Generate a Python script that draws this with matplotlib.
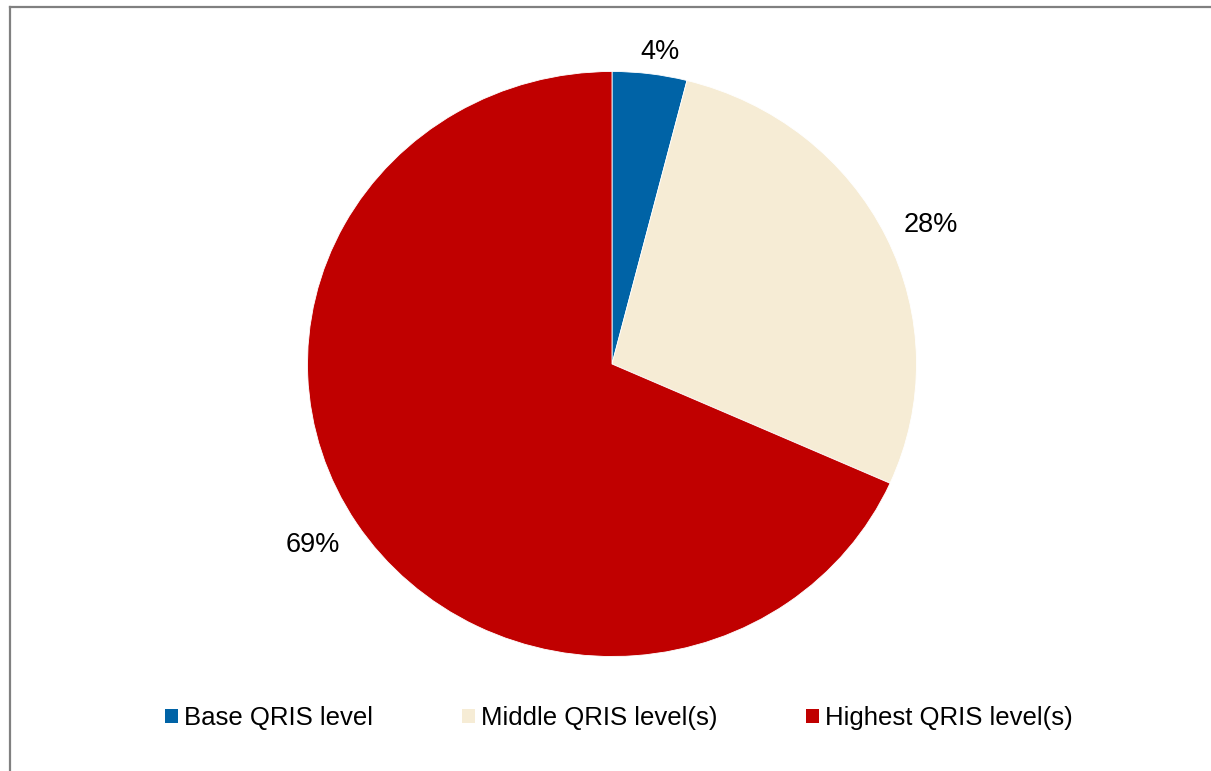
import numpy as np
import matplotlib.pyplot as plt
from matplotlib.lines import Line2D
from matplotlib.patches import Patch

plt.rcParams['font.family'] = ['Liberation Sans', 'DejaVu Sans']

labels = ['Base QRIS level', 'Middle QRIS level(s)', 'Highest QRIS level(s)']
shares = [4, 28, 69]
colors = ['#0063a6', '#f6ecd5', '#c00000']

W, H = 1211, 771
fig = plt.figure(figsize=(W / 100, H / 100), dpi=100)

# outer frame (only top and left edges fall inside the canvas)
fig.add_artist(Line2D([10 / W, 10 / W], [0, 1 - 7 / H], transform=fig.transFigure,
                      color='#808080', lw=1.6, solid_capstyle='projecting'))
fig.add_artist(Line2D([10 / W, 1], [1 - 7 / H, 1 - 7 / H], transform=fig.transFigure,
                      color='#808080', lw=1.6, solid_capstyle='projecting'))

# pie is slightly wider than tall
ax = fig.add_axes([307.5 / W, 1 - 656.5 / H, 609 / W, 585 / H])
wedges, _ = ax.pie(shares, colors=colors, startangle=90, counterclock=False,
                   radius=1, wedgeprops=dict(edgecolor='white', linewidth=0.6))
ax.set_xlim(-1, 1)
ax.set_ylim(-1, 1)
ax.set_aspect('auto')
ax.axis('off')

# percentage labels just outside each wedge
for w, v in zip(wedges, shares):
    mid = np.deg2rad((w.theta1 + w.theta2) / 2)
    c, s = np.cos(mid), np.sin(mid)
    x = 1.03 * c + 0.12 * np.sign(c) * min(1, 2 * abs(c))
    y = 1.03 * s + 0.06 * np.sign(s) * np.sqrt(abs(s)) - 0.014
    ax.text(x, y, f'{v}%', ha='center', va='center', fontsize=19.5, color='black')

handles = [Patch(facecolor=c, edgecolor='none') for c in colors]
fig.legend(handles, labels, loc='center', bbox_to_anchor=(619 / W, 1 - 718 / H),
           ncol=3, frameon=False, fontsize=18.5, handlelength=0.5, handleheight=0.5,
           handletextpad=0.25, columnspacing=3.45)

fig.savefig('out.png', dpi=100)
